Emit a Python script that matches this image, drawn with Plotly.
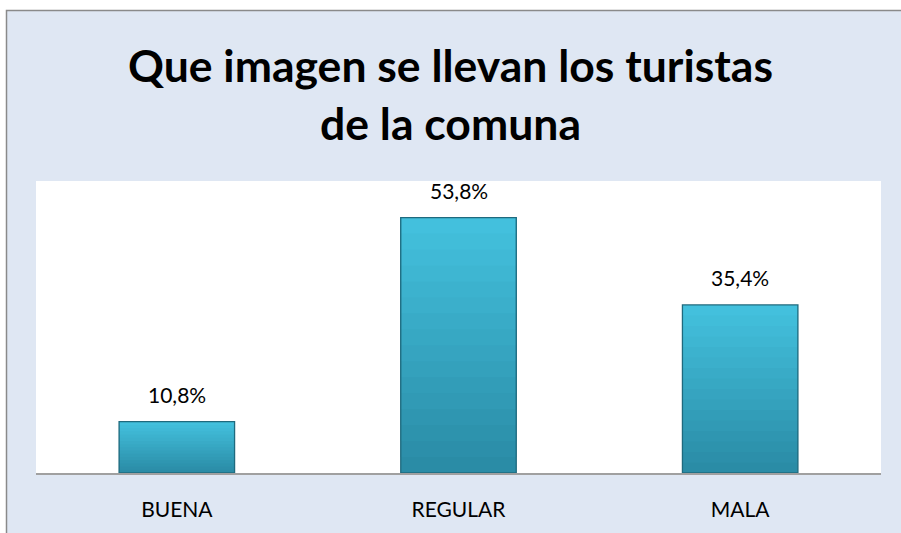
import plotly.graph_objects as go

categories = ["BUENA", "REGULAR", "MALA"]
values = [10.8, 53.8, 35.4]
labels = ["10,8%", "53,8%", "35,4%"]
title_lines = ["Que imagen se llevan los turistas", "de la comuna"]

W, H = 901, 533
L, R, T, B = 36, 20, 181, 60
pw, ph = W - L - R, H - T - B

def px_x(p):
    return (p - L) / pw

def px_y(p):
    return (H - B - p) / ph

bg = "#dfe7f3"
FONT = "Lato, Open Sans, sans-serif"
BW = 0.41

def lerp(c1, c2, t):
    a = [int(c1[i:i + 2], 16) for i in (1, 3, 5)]
    b = [int(c2[i:i + 2], 16) for i in (1, 3, 5)]
    return "rgb(%d,%d,%d)" % tuple(round(a[k] + (b[k] - a[k]) * t) for k in range(3))

fig = go.Figure()
N = 16
bottom_col, top_col = "#2a8ca6", "#43c0dd"
for i in range(N):
    fig.add_trace(go.Bar(
        x=categories, y=[v * (N - i) / N for v in values], base=[v * i / N for v in values],
        width=BW, marker=dict(color=lerp(bottom_col, top_col, i / (N - 1)), line=dict(width=0)),
        hoverinfo="skip",
    ))
# outline
fig.add_trace(go.Bar(
    x=categories, y=values, width=BW,
    marker=dict(color="rgba(0,0,0,0)", line=dict(color="#1f6a7e", width=1.3)),
    hoverinfo="skip",
))

for c, v, t in zip(categories, values, labels):
    fig.add_annotation(x=c, y=v, text=t, showarrow=False, yanchor="bottom",
                       yshift=13, font=dict(family=FONT, size=21, color="#000"))

fig.update_layout(
    width=W, height=H,
    margin=dict(l=L, r=R, t=T, b=B),
    paper_bgcolor=bg, plot_bgcolor="white",
    showlegend=False,
    barmode="overlay",
    title=dict(text="<br>".join(title_lines), x=0.5, xanchor="center",
               y=1 - 82 / H, yanchor="middle",
               font=dict(family=FONT, size=44.5, color="#000", weight="bold")),
    xaxis=dict(showline=True, linecolor="#a0a0a0", linewidth=1.5, ticks="",
               ticklabelstandoff=17,
               tickfont=dict(family=FONT, size=21, color="#000"),
               showgrid=False, fixedrange=True),
    yaxis=dict(range=[0, 61.5], visible=False, showgrid=False, fixedrange=True),
    shapes=[
        dict(type="rect", xref="paper", yref="paper", x0=px_x(-5), x1=px_x(6.5),
             y0=px_y(H + 5), y1=px_y(-5), fillcolor="white", line=dict(width=0), layer="below"),
        dict(type="rect", xref="paper", yref="paper", x0=px_x(-5), x1=px_x(W + 5),
             y0=px_y(10.5), y1=px_y(-5), fillcolor="white", line=dict(width=0), layer="below"),
        dict(type="rect", xref="paper", yref="paper", x0=px_x(6.5), x1=px_x(W + 10),
             y0=px_y(H + 10), y1=px_y(10.5), fillcolor="rgba(0,0,0,0)",
             line=dict(color="#8a8a8a", width=1.5), layer="above"),
    ],
)

fig.write_html("out.html", config={"displayModeBar": False},
               post_script="document.body.style.margin='0';document.body.style.overflow='hidden';")
